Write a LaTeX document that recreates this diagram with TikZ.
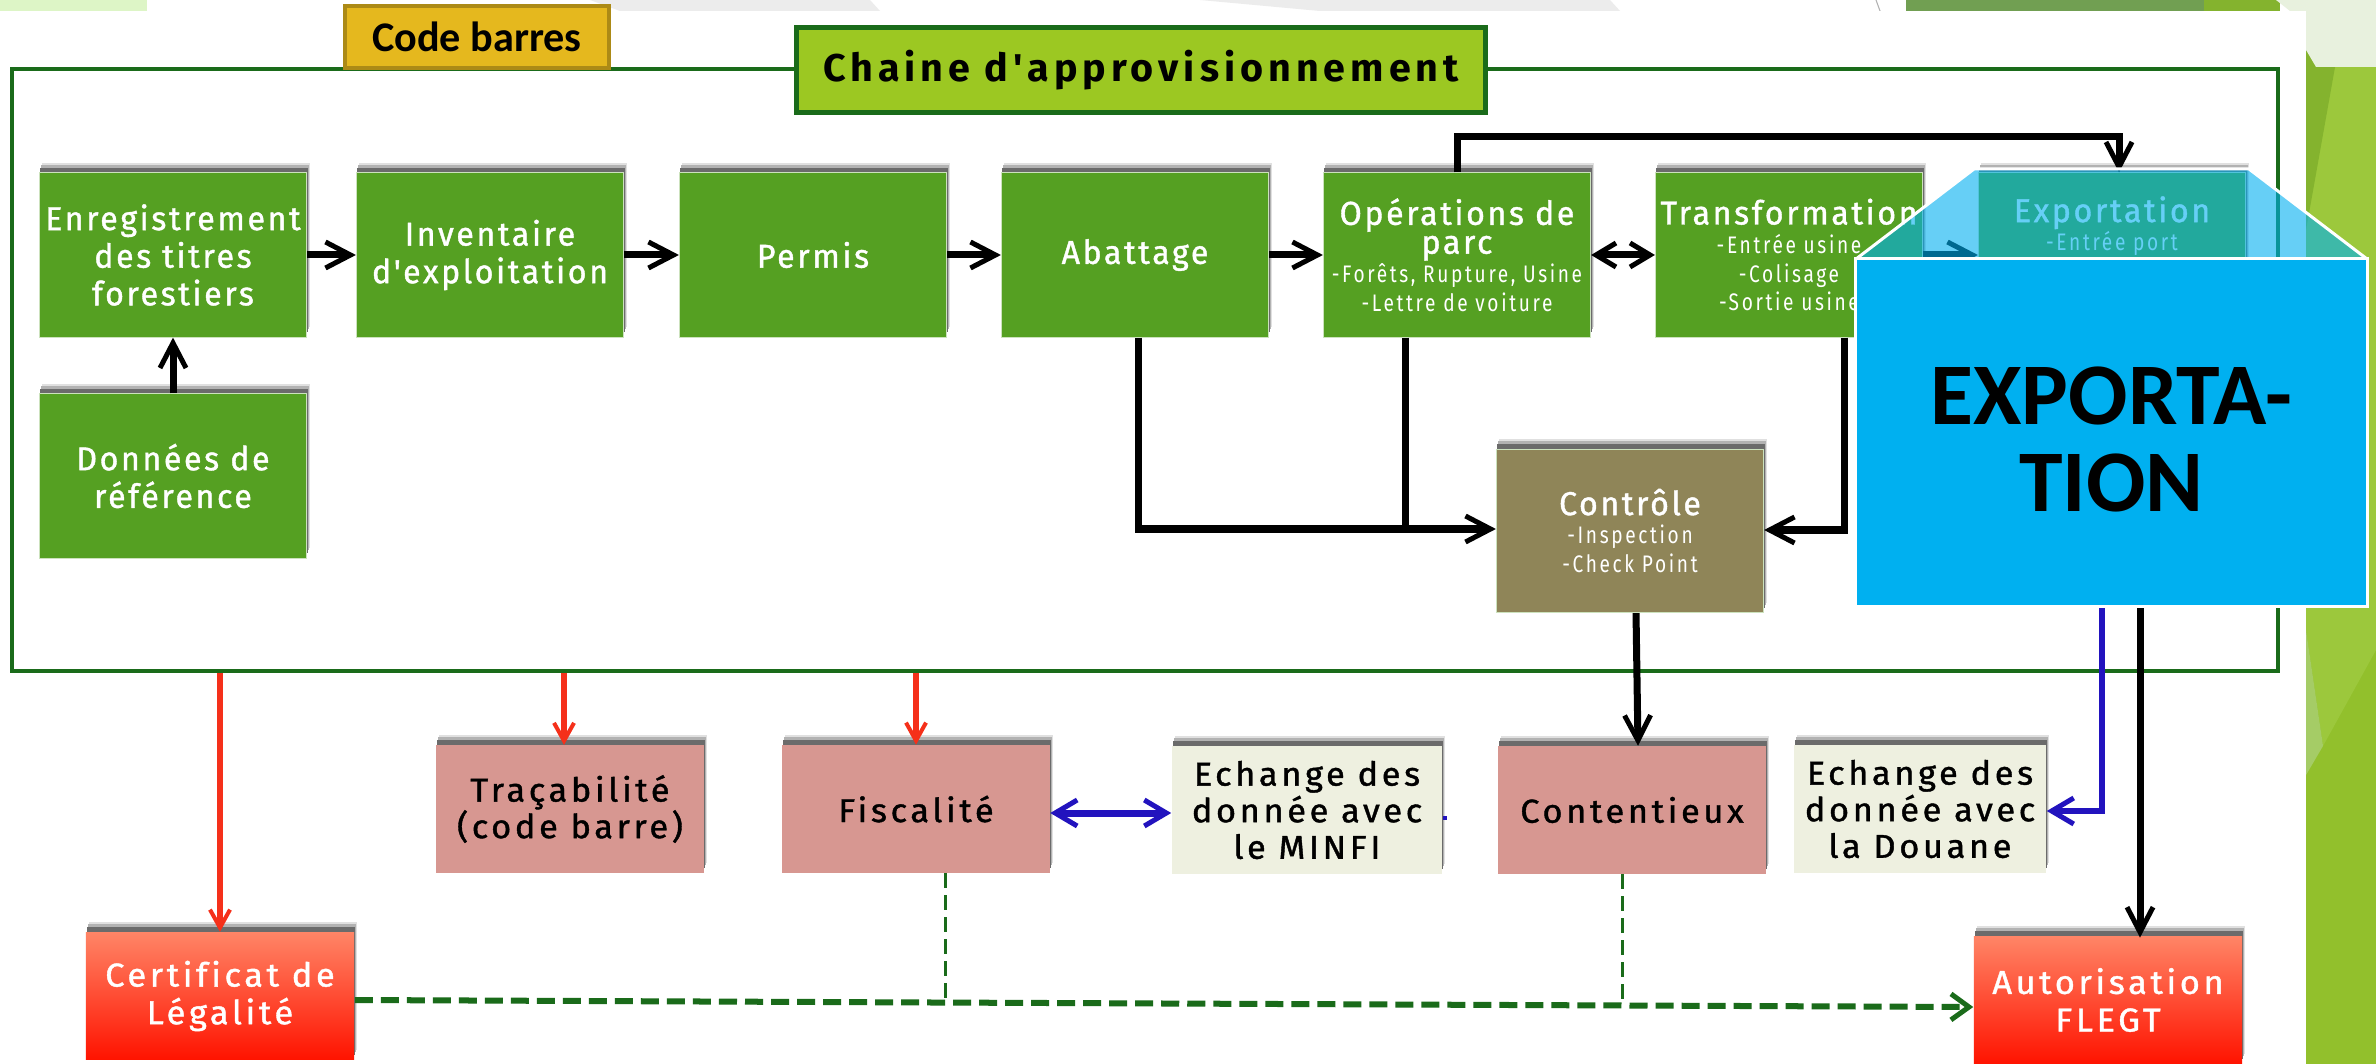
\documentclass[tikz,border=0pt]{standalone}
\usepackage{fontspec}
\usepackage{tikz}
\usetikzlibrary{arrows,arrows.meta}
\usetikzlibrary{shadows}
\setmainfont{Carlito}
\newfontfamily\agency[FakeStretch=0.97,LetterSpace=8,FakeBold=1.2,Ligatures=NoCommon]{Fira Sans}
\newfontfamily\agencyb[FakeStretch=1.04,LetterSpace=11,FakeBold=1.2,Ligatures=NoCommon]{Fira Sans}
\newfontfamily\agencyp[FakeStretch=0.8,LetterSpace=11,Ligatures=NoCommon]{Fira Sans}
\newfontfamily\agencyt[FakeStretch=1.02,LetterSpace=13,Ligatures=NoCommon]{Fira Sans}
\newcommand{\sous}[1]{{\agencyp\fontsize{6.8}{7.6}\selectfont #1}}
\definecolor{foret}{HTML}{55A022}
\definecolor{lime}{HTML}{9CC822}
\definecolor{fond}{HTML}{92C02C}
\definecolor{fondclair}{HTML}{9CC83C}
\definecolor{fondsombre}{HTML}{84B32E}
\definecolor{fondterne}{HTML}{719F52}
\definecolor{fondpale}{HTML}{E8F1DE}
\definecolor{fondvoile}{HTML}{A5CC66}
\definecolor{cadrevert}{HTML}{1A6B1A}
\definecolor{rose}{HTML}{D79791}
\definecolor{creme}{HTML}{EEF0E0}
\definecolor{brun}{HTML}{8F8558}
\definecolor{bleu}{HTML}{2213BE}
\definecolor{rouge}{HTML}{F5301A}
\definecolor{export}{HTML}{00B0F0}
\definecolor{or}{HTML}{E5B81E}
\tikzset{
	ombre/.style={general shadow={shadow xshift=0.03cm,shadow yshift=0.10cm,fill=black!12},general shadow={shadow xshift=0.02cm,shadow yshift=0.08cm,fill=black!30},general shadow={shadow xshift=0.01cm,shadow yshift=0.05cm,fill=black!58}},
	vert/.style={ombre,fill=foret,draw=white!70!foret,line width=0.3pt,text=white,minimum width=2.67cm,minimum height=1.64cm,inner sep=0pt,align=center,font=\agency\fontsize{9.4}{10.7}\selectfont},
	rosebox/.style={ombre,fill=rose,text=black,minimum width=2.67cm,minimum height=1.27cm,inner sep=0pt,align=center,font=\agencyb\fontsize{9.4}{10.4}\selectfont},
	cremebox/.style={ombre,fill=creme,text=black,minimum height=1.27cm,inner sep=0pt,align=center,font=\agencyb\fontsize{9.4}{10.4}\selectfont},
	rougebox/.style={ombre,top color=red!60!orange!60!white,bottom color=red!85!orange,text=white,minimum width=2.68cm,minimum height=1.27cm,inner sep=0pt,align=center,font=\agencyb\fontsize{9.4}{10.7}\selectfont},
	fleche/.style={line width=0.07cm,-{Straight Barb[length=0.25cm,width=0.26cm,line width=0.05cm]}},
	flecheb/.style={bleu,line width=0.07cm,{Straight Barb[length=0.22cm,width=0.26cm,line width=0.05cm]}-{Straight Barb[length=0.22cm,width=0.26cm,line width=0.05cm]}},
	trait/.style={line width=0.07cm},
	rougef/.style={rouge,line width=0.055cm,-{Straight Barb[length=0.18cm,width=0.2cm,line width=0.04cm]}},
	tirets/.style={cadrevert,line width=0.03cm,dash pattern=on 0.15cm off 0.07cm},
	tiretsf/.style={cadrevert,line width=0.06cm,dash pattern=on 0.18cm off 0.08cm,-{Straight Barb[length=0.18cm,width=0.26cm,line width=0.05cm]}}
}
\begin{document}
\begin{tikzpicture}[x=0.01cm,y=-0.01cm]
	\useasboundingbox (0,0) rectangle (2376,1064);
	% fond
	\fill[white] (0,0) rectangle (2376,1064);
	\fill[gray!15] (590,0) -- (620,11) -- (880,11) -- (870,0) -- cycle;
	\fill[gray!15] (1200,0) -- (1320,11) -- (1620,11) -- (1610,0) -- cycle;
	\fill[green!25!lime!25!white] (0,0) rectangle (147,11);
	\draw[gray!60,line width=0.3pt] (1876,0) -- (1880,11);
	\fill[fondterne] (1906,0) rectangle (2204,11);
	\fill[fondsombre] (2204,0) rectangle (2280,11);
	\fill[fond] (2306,0) rectangle (2376,1064);
	\fill[fondclair] (2306,67) -- (2376,67) -- (2376,650) -- (2323,746) -- (2306,630) -- cycle;
	\fill[fondsombre] (2306,40) -- (2335,67) -- (2306,230) -- cycle;
	\fill[fondvoile] (2306,630) -- (2323,746) -- (2306,775) -- cycle;
	\fill[fondpale] (2276,0) -- (2376,0) -- (2376,67) -- (2316,67) -- (2306,50) -- (2306,11) -- (2290,11) -- cycle;
	\fill[white] (0,11) rectangle (2306,1064);
	% cadre
	\node[draw=cadrevert,line width=0.04cm,minimum width=22.65cm,minimum height=6.02cm,inner sep=0pt] (cadre) at (1145,370) {};
	\node[fill=or,draw=or!75!black,line width=0.04cm,minimum width=2.63cm,minimum height=0.61cm,inner sep=0pt,font=\bfseries\fontsize{12}{13}\selectfont] (code) at (477,37) {Code barres};
	\node[fill=lime,draw=cadrevert,line width=0.05cm,minimum width=6.88cm,minimum height=0.85cm,inner sep=0pt,font=\agencyt\bfseries\fontsize{11}{12}\selectfont] (chaine) at (1141,70) {Chaine d'approvisionnement};
	% chaine
	\node[vert] (enreg) at (173,255) {Enregistrement\\des titres\\forestiers};
	\node[vert] (inv) at (490,255) {Inventaire\\d'exploitation};
	\node[vert] (permis) at (813,255) {Permis};
	\node[vert] (abattage) at (1135,255) {Abattage};
	\node[vert] (ops) at (1457,255) {Opérations de\\[-2.5pt]parc\\[-2.5pt]\sous{-Forêts, Rupture, Usine}\\[-2.5pt]\sous{-Lettre de voiture}};
	\node[vert] (transfo) at (1789,255) {Transformation\\[-2.5pt]\sous{-Entrée usine}\\[-2.5pt]\sous{-Colisage}\\[-2.5pt]\sous{-Sortie usine}};
	\node[vert] (exportation) at (2112,255) {Exportation\\[-2.5pt]\sous{-Entrée port}\\[-2.5pt]\sous{-Empotage}\\[-2.5pt]\sous{-Sortie port}};
	\node[vert] (donnees) at (173,476) {Données de\\référence};
	\node[vert,fill=brun,minimum height=1.63cm] (controle) at (1630,531) {Contrôle\\[-2.5pt]\sous{-Inspection}\\[-2.5pt]\sous{-Check Point}};
	% bas
	\node[rosebox] (traca) at (570,809) {Traçabilité\\(code barre)};
	\node[rosebox] (fisc) at (916,809) {Fiscalité};
	\node[cremebox,minimum width=2.7cm] (minfi) at (1307,810) {Echange des\\donnée avec\\le MINFI};
	\node[rosebox] (content) at (1632,810) {Contentieux};
	\node[cremebox,minimum width=2.52cm] (douane) at (1920,809) {Echange des\\donnée avec\\la Douane};
	\node[rougebox] (certif) at (220,996) {Certificat de\\Légalité};
	\node[rougebox] (autor) at (2108,1000) {Autorisation\\FLEGT};
	% liens
	\coordinate (haut) at (1457,137);
	\coordinate (coudeab) at (1138,529);
	\coordinate (coudeops) at (1405,529);
	\coordinate (coudetr) at (1844,530);
	\coordinate (coudebl) at (2102,811);
	\draw[fleche] (enreg) -- (inv);
	\draw[fleche] (inv) -- (permis);
	\draw[fleche] (permis) -- (abattage);
	\draw[fleche] (abattage) -- (ops);
	\draw[fleche,{Straight Barb[length=0.2cm,width=0.24cm,line width=0.05cm]}-{Straight Barb[length=0.2cm,width=0.24cm,line width=0.05cm]}] (ops) -- (transfo);
	\draw[fleche] (transfo) -- (exportation);
	\draw[fleche] (donnees) -- (enreg);
	\draw[fleche] (ops.north) -- (haut) -| ([xshift=0.07cm]exportation.north);
	\draw[fleche] (abattage.south -| coudeab) -- (coudeab) -- (controle.west |- coudeab);
	\draw[trait] (ops.south -| coudeops) -- (coudeops);
	\draw[fleche] (transfo.south -| coudetr) -- (coudetr) -- (controle.east |- coudetr);
	\draw[fleche] ([xshift=0.06cm]controle.south) -- ([xshift=0.06cm]content.north);
	\draw[fleche] (exportation.south -| autor.north) ++(32,0) -- ++(0,600);
	\draw[bleu,line width=0.06cm,-{Straight Barb[length=0.22cm,width=0.26cm,line width=0.05cm]}] (exportation.south -| coudebl) -- (coudebl) -- (douane.east |- coudebl);
	\draw[flecheb] (fisc.east |- 0,813) -- (minfi.west |- 0,813);
	\draw[bleu,line width=0.04cm] (minfi.east |- 0,818) -- ++(4,0);
	\draw[rougef] (cadre.south -| certif.north) -- (certif.north);
	\draw[rougef] (cadre.south -| 564,0) -- (564,745);
	\draw[rougef] (cadre.south -| fisc.north) -- (fisc.north);
	\draw[tiretsf] (certif.east |- 0,1000) -- (autor.west |- 0,1007);
	\draw[tirets] (fisc.south -| 945,0) -- (945,1002);
	\draw[tirets] (content.south -| 1622,0) -- (1622,1004);
	% calque
	\fill[export,opacity=0.6] (1856,259) -- (1974,169) -- (2249,169) -- (2367,259) -- cycle;
	\draw[white,line width=0.03cm] (1856,259) -- (1974,169) -- (2249,169) -- (2367,259);
	\node[fill=export,draw=white,line width=0.03cm,minimum width=5.11cm,minimum height=3.47cm,inner sep=0pt] (calque) at (2111.5,432.5) {};
	\node[align=center,inner sep=0pt,yshift=-0.07cm,font=\bfseries\fontsize{25}{25}\selectfont] (calquetexte) at (calque) {EXPORTA-\\TION};
\end{tikzpicture}
\end{document}
